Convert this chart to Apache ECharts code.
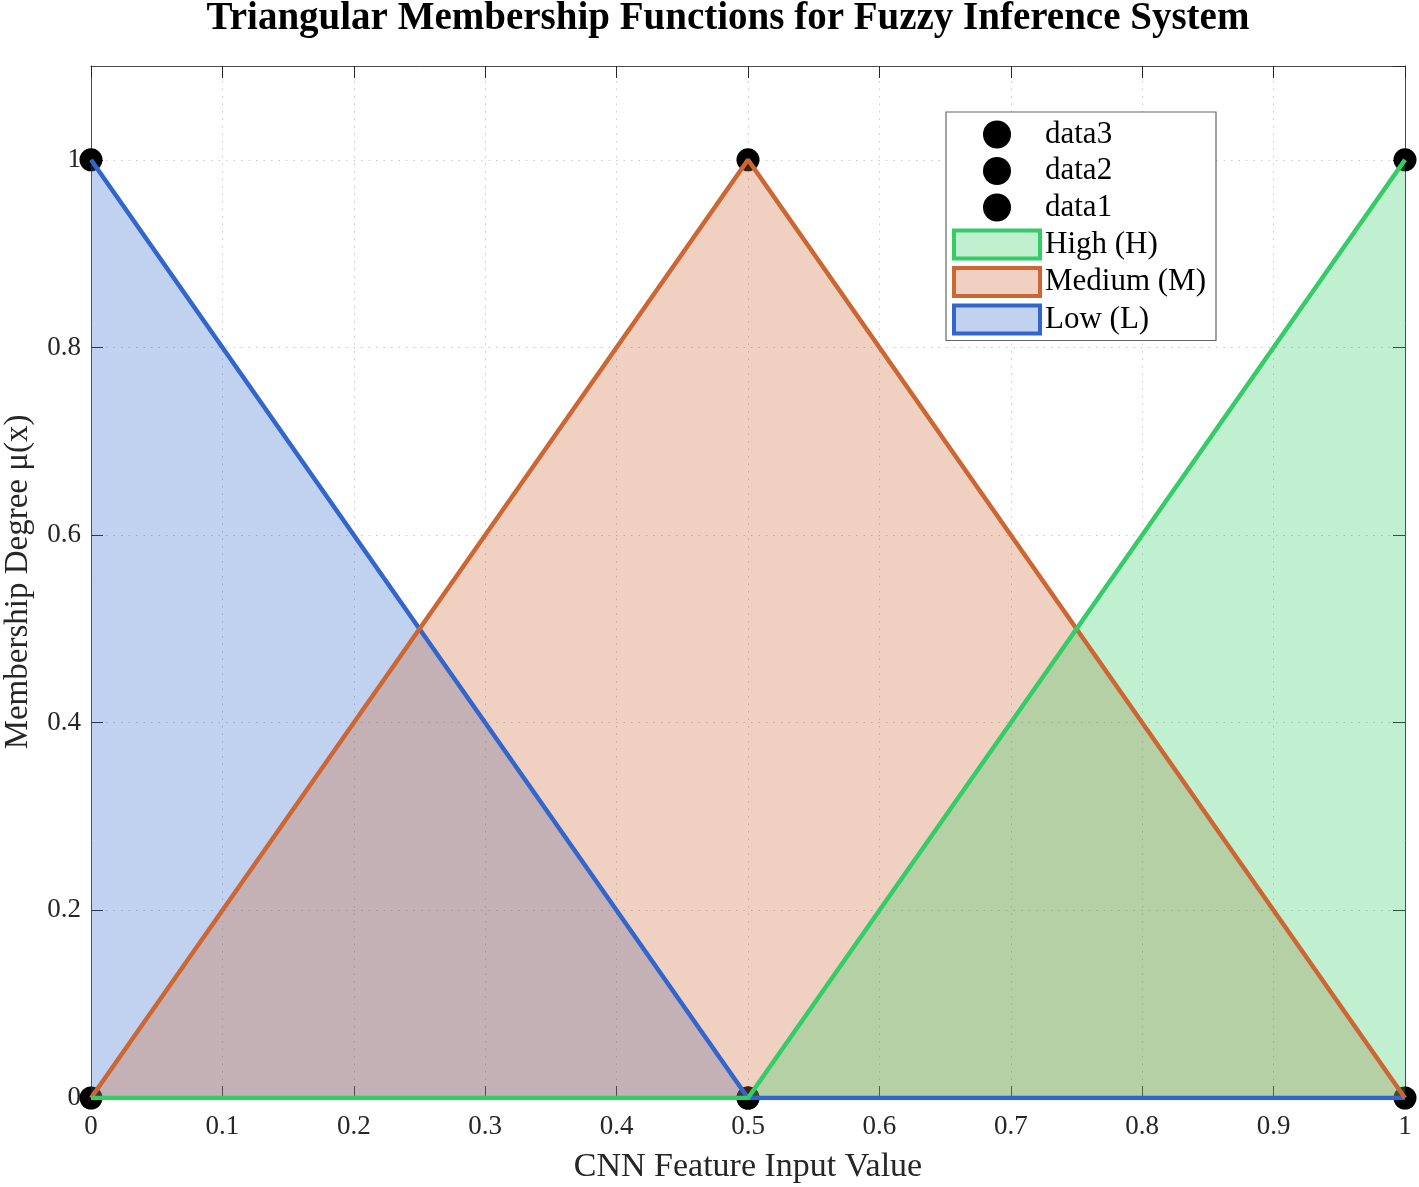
<!DOCTYPE html>
<html><head><meta charset="utf-8">
<script src="https://cdn.jsdelivr.net/npm/echarts@6/dist/echarts.min.js"></script>
<style>html,body{margin:0;padding:0;background:#fff}#c{width:1419px;height:1187px}</style>
</head><body><div id="c"></div>
<script>
// Data
const xPts = [0, 0.5, 1];
const lowY = [1, 0, 0];
const mediumY = [0, 1, 0];
const highY = [0, 0, 1];
const data1 = [[0, 1], [0.5, 0]];
const data2 = [[0, 0], [0.5, 1], [1, 0]];
const data3 = [[0.5, 0], [1, 1]];
const xTicks = [0, 0.1, 0.2, 0.3, 0.4, 0.5, 0.6, 0.7, 0.8, 0.9, 1];
const yTicks = [0, 0.2, 0.4, 0.6, 0.8, 1];

const FONT = '"Liberation Serif","Times New Roman",serif';
const AX = '#4d4d4d';
const TXT = '#262626';
const blue = '#3366cc', orange = '#cc6633', green = '#33cc66';
const pair = ys => xPts.map((x, i) => [x, ys[i]]);

function tri(name, ys, col) {
  return {
    name, type: 'line', data: pair(ys), symbol: 'none', showSymbol: false,
    lineStyle: { color: col, width: 4.5 }, itemStyle: { color: col },
    areaStyle: { color: col, opacity: 0.3 }, animation: false
  };
}
function dots(name, d) {
  return { name, type: 'scatter', data: d, symbol: 'circle', symbolSize: 23,
    itemStyle: { color: '#000', opacity: 1 }, animation: false };
}
const gridLine = { show: true, lineStyle: { color: '#c8c8c8', type: [1.5, 6], width: 1 } };
const tick = { show: true, inside: true, length: 12, lineStyle: { color: TXT } };
const axLine = { show: true, onZero: false, lineStyle: { color: AX, width: 1 } };
const chart = echarts.init(document.getElementById('c'));
chart.setOption({
  backgroundColor: '#fff',
  animation: false,
  title: {
    text: 'Triangular Membership Functions for Fuzzy Inference System',
    left: 723, top: -6, textAlign: 'center',
    textStyle: { fontFamily: FONT, fontWeight: 'bold', fontSize: 39, color: '#000' }
  },
  grid: { left: 91, right: 14, top: 66, bottom: 89, containLabel: false, outerBoundsMode: 'none' },
  legend: {
    orient: 'vertical', left: 946, top: 112,
    padding: [7, 10, 5, 6], itemGap: 5.5, itemWidth: 86, itemHeight: 28, itemTextGap: 4,
    backgroundColor: '#fff', borderColor: '#666', borderWidth: 1.2,
    textStyle: { fontFamily: FONT, fontSize: 31, color: '#000', lineHeight: 28 },
    data: [
      { name: 'data3', icon: 'circle', itemStyle: { color: '#000', opacity: 1 } },
      { name: 'data2', icon: 'circle', itemStyle: { color: '#000', opacity: 1 } },
      { name: 'data1', icon: 'circle', itemStyle: { color: '#000', opacity: 1 } },
      { name: 'High (H)', icon: 'rect', itemStyle: { color: 'rgba(51,204,102,0.3)', borderColor: green, borderWidth: 4 } },
      { name: 'Medium (M)', icon: 'rect', itemStyle: { color: 'rgba(204,102,51,0.3)', borderColor: orange, borderWidth: 4 } },
      { name: 'Low (L)', icon: 'rect', itemStyle: { color: 'rgba(51,102,204,0.3)', borderColor: blue, borderWidth: 4 } }
    ]
  },
  xAxis: [{
    type: 'value', min: 0, max: 1, interval: 0.1, position: 'bottom',
    name: 'CNN Feature Input Value', nameLocation: 'middle', nameGap: 52,
    nameTextStyle: { fontFamily: FONT, fontSize: 34, color: TXT },
    axisLine: axLine, axisTick: tick,
    axisLabel: { fontFamily: FONT, fontSize: 27, color: TXT, margin: 15,
      formatter: v => { const t = xTicks.find(k => Math.abs(k - v) < 1e-9); return t === undefined ? '' : String(t); } },
    splitLine: gridLine
  }, {
    type: 'value', min: 0, max: 1, interval: 0.1, position: 'top',
    axisLine: axLine, axisTick: tick,
    axisLabel: { show: false }, splitLine: { show: false }
  }],
  yAxis: [{
    type: 'value', min: 0, max: 1.1, interval: 0.2, position: 'left',
    name: 'Membership Degree μ(x)', nameLocation: 'middle', nameGap: 56,
    nameTextStyle: { fontFamily: FONT, fontSize: 33, color: TXT },
    axisLine: axLine, axisTick: tick,
    axisLabel: { fontFamily: FONT, fontSize: 27, color: TXT, margin: 10, showMaxLabel: false,
      formatter: v => { const t = yTicks.find(k => Math.abs(k - v) < 1e-9); return t === undefined ? '' : String(t); } },
    splitLine: gridLine
  }, {
    type: 'value', min: 0, max: 1.1, interval: 0.2, position: 'right',
    axisLine: axLine, axisTick: tick,
    axisLabel: { show: false }, splitLine: { show: false }
  }],
  series: [
    tri('Low (L)', lowY, blue),
    tri('Medium (M)', mediumY, orange),
    tri('High (H)', highY, green),
    dots('data1', data1),
    dots('data2', data2),
    dots('data3', data3)
  ]
});
</script></body></html>
